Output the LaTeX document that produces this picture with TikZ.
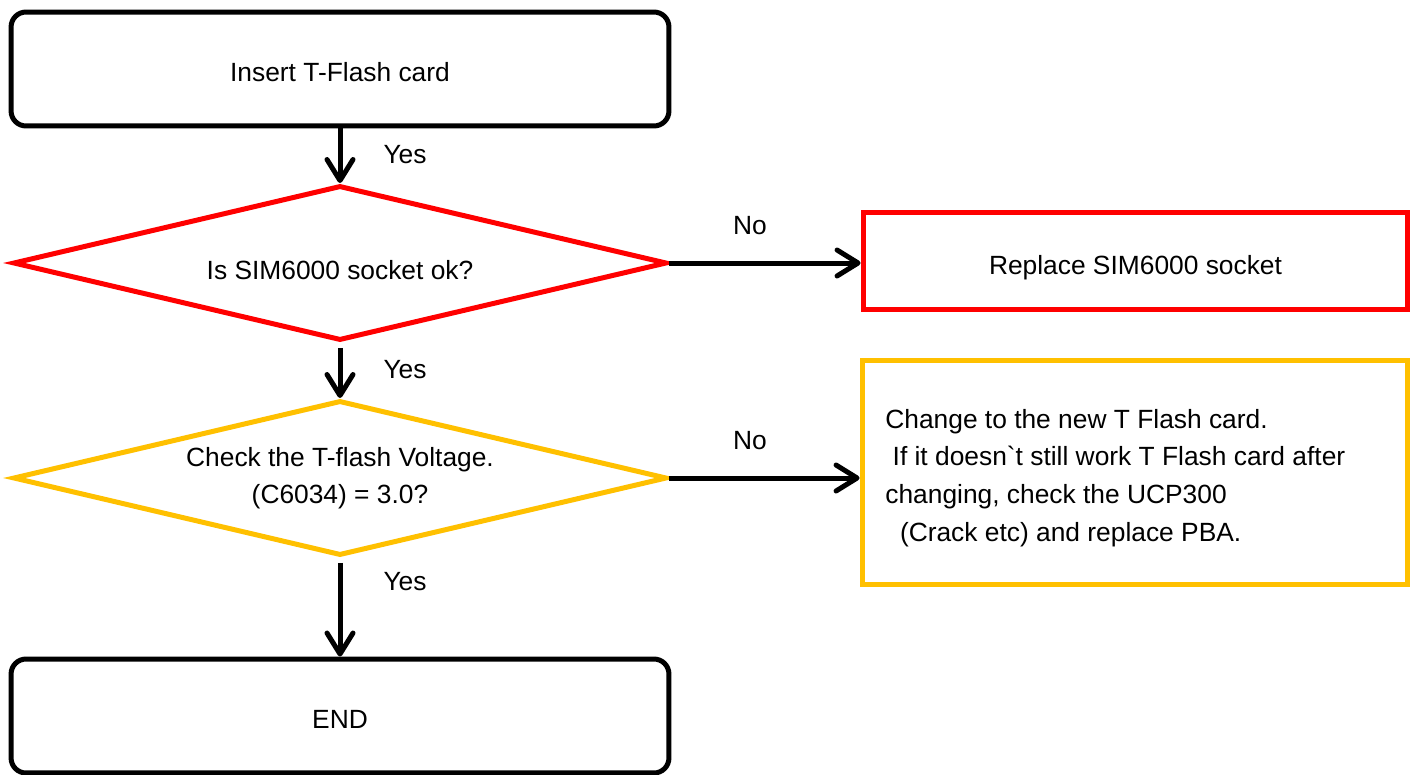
\documentclass[tikz,border=0pt]{standalone}
\usepackage{fontspec}
\setmainfont{Liberation Sans}
\usetikzlibrary{shapes.geometric,arrows.meta}
\definecolor{flred}{HTML}{FF0000}
\definecolor{flyellow}{HTML}{FFC000}
\begin{document}
\begin{tikzpicture}[x=0.02cm,y=-0.02cm,
 every node/.style={font=\fontsize{15}{21}\selectfont},
 termbox/.style={draw=black, line width=0.1cm, rounded corners=0.3cm, minimum width=13.16cm, minimum height=2.28cm, inner sep=0, text height=14.2pt, text depth=0pt},
 decision/.style={diamond, draw, line width=0.1cm, aspect=4.2, minimum width=13.08cm, minimum height=3.1cm, inner sep=0, align=center},
 actbox/.style={draw, line width=0.1cm, inner sep=0},
 flow/.style={line width=0.1cm, -{Straight Barb[length=0.42cm,width=0.52cm,line cap=round,line join=round]}},
 lbl/.style={inner sep=0}
]
\useasboundingbox (0,0) rectangle (1416,774);
\node[termbox] (start) at (340,69) {Insert T-Flash card};
\node[decision, draw=flred, text height=18.8pt, text depth=0pt] (d1) at (340,263) {Is SIM6000 socket ok?};
\node[actbox, draw=flred, minimum width=10.9cm, minimum height=1.96cm, text height=15.4pt, text depth=0pt] (r1) at (1135.5,261) {Replace SIM6000 socket};
\node[decision, draw=flyellow] (d2) at (340,478) {Check the T-flash Voltage.\\(C6034) = 3.0?};
\node[actbox, draw=flyellow, minimum width=10.92cm, minimum height=4.5cm] (r2) at (1135,472.5) {};
\node[anchor=west, align=left, inner sep=0, font=\fontsize{15}{21.5}\selectfont] (r2text) at (885,478) {Change to the new T Flash card.\\\ If it doesn\textasciigrave t still work T Flash card after\\changing, check the UCP300\\\ \ (Crack etc) and replace PBA.};
\node[termbox] (end) at (340,716) {END};
\draw[flow] (start.south) -- (d1.north);
\draw[flow, shorten <=0.1cm] (d1.south) -- (d2.north);
\draw[flow, shorten <=0.1cm] (d2.south) -- (end.north);
\draw[flow] (d1.east) -- (d1.east -| r1.west);
\draw[flow] (d2.east) -- (d2.east -| r2.west);
\node[lbl] (y1) at (405,155) {Yes};
\node[lbl] (y2) at (405,370) {Yes};
\node[lbl] (y3) at (405,582) {Yes};
\node[lbl] (n1) at (750,226) {No};
\node[lbl] (n2) at (750,441) {No};
\end{tikzpicture}
\end{document}
